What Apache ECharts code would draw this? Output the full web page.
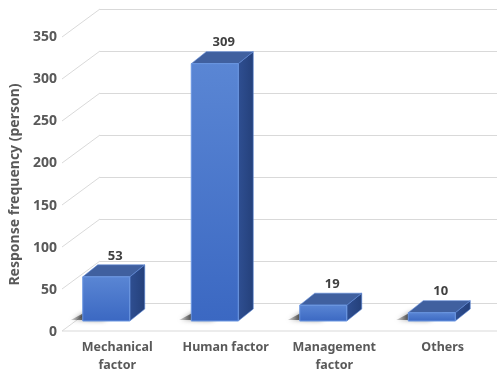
<!DOCTYPE html>
<html>
<head>
<meta charset="utf-8">
<script src="https://cdn.jsdelivr.net/npm/echarts@6/dist/echarts.min.js"></script>
<style>
  html, body { margin: 0; padding: 0; background: #fff; }
  #chart { width: 497px; height: 374px; }
</style>
</head>
<body>
<div id="chart"></div>
<script>
const categories = ['Mechanical\nfactor', 'Human factor', 'Management\nfactor', 'Others'];
const responses = [53, 309, 19, 10];
const gridTicks = [0, 50, 100, 150, 200, 250, 300, 350];

// oblique 3d offsets
const wallDx = 38, wallDy = -28;
const barDx = 15, barDy = -12;
const textColor = '#595959';
const font = 'Noto Sans';

let chart = echarts.init(document.getElementById('chart'));

function wallLines(params, api) {
  const v = api.value(0);
  const p = api.coord([0, v]);
  const children = [{
    type: 'line',
    shape: { x1: p[0], y1: p[1], x2: p[0] - wallDx, y2: p[1] - wallDy },
    style: { stroke: '#d9d9d9', lineWidth: 1 }
  }];
  if (v === 0) {
    children.push({
      type: 'line',
      shape: { x1: p[0] - wallDx, y1: p[1] - wallDy, x2: 497, y2: p[1] - wallDy },
      style: { stroke: '#d9d9d9', lineWidth: 1 }
    });
  }
  return { type: 'group', children: children };
}

function bar3d(params, api) {
  const top = api.coord([api.value(0), api.value(1)]);
  const base = api.coord([api.value(0), 0]);
  const w = 47;
  const x0 = top[0] - 11 - w / 2;
  const x1 = x0 + w;
  const yt = top[1], yb = base[1];
  return {
    type: 'group',
    children: [
      {
        // soft floor shadow, mostly hidden behind the bar
        type: 'polygon',
        shape: { points: [[x0 - 12, yb - 1], [x0 + 20, yb - 1], [x0 + 20 + barDx, yb + barDy + 3], [x0 - 12 + barDx, yb + barDy + 3]] },
        style: {
          fill: new echarts.graphic.LinearGradient(0, 0, 1, 0, [
            { offset: 0, color: 'rgba(0,0,0,0.15)' }, { offset: 0.4, color: 'rgba(0,0,0,0.8)' }, { offset: 1, color: 'rgba(0,0,0,0.9)' }
          ]),
          shadowBlur: 5, shadowColor: 'rgba(0,0,0,0.7)'
        }
      },
      {
        type: 'polygon',
        shape: { points: [[x1, yt], [x1 + barDx, yt + barDy], [x1 + barDx, yb + barDy], [x1, yb]] },
        style: {
          fill: new echarts.graphic.LinearGradient(0, 0, 1, 0, [
            { offset: 0, color: '#2f4f92' }, { offset: 1, color: '#24407a' }
          ]),
          stroke: '#5a86d6', lineWidth: 0.6
        }
      },
      {
        type: 'polygon',
        shape: { points: [[x0, yt], [x1, yt], [x1 + barDx, yt + barDy], [x0 + barDx, yt + barDy]] },
        style: { fill: '#40609f', stroke: '#5a86d6', lineWidth: 0.6 }
      },
      {
        type: 'rect',
        shape: { x: x0, y: yt, width: w, height: yb - yt },
        style: {
          fill: new echarts.graphic.LinearGradient(0, 0, 0, 1, [
            { offset: 0, color: '#5a86d4' }, { offset: 1, color: '#3b68c2' }
          ]),
          stroke: '#6b97e2', lineWidth: 1
        }
      },
      {
        type: 'text',
        x: top[0] - 2, y: yt + barDy - 9,
        style: {
          text: String(api.value(1)), align: 'center', verticalAlign: 'middle',
          fill: '#404040', font: 'bold 13px "' + font + '"'
        }
      }
    ]
  };
}

const option = {
  animation: false,
  grid: [
    { left: 100, right: 0, top: 9, bottom: 71 },      // back wall
    { left: 62, right: 0, top: 37, bottom: 42 },      // front axis plane
    { left: 63, right: -18, top: 29.5, bottom: 50 }   // bars
  ],
  xAxis: [
    { gridIndex: 0, type: 'value', min: 0, max: 1, show: false },
    { gridIndex: 1, type: 'value', min: 0, max: 1, show: false },
    {
      gridIndex: 2, type: 'category', data: categories,
      axisLine: { show: false }, axisTick: { show: false },
      axisLabel: { margin: 17, lineHeight: 18, color: textColor, fontFamily: font, fontWeight: 'bold', fontSize: 12.5, interval: 0 }
    }
  ],
  yAxis: [
    {
      gridIndex: 0, type: 'value', min: 0, max: 350, interval: 50,
      axisLabel: { show: false }, axisLine: { show: false }, axisTick: { show: false },
      splitLine: { lineStyle: { color: '#d9d9d9', width: 1 } }
    },
    {
      gridIndex: 1, type: 'value', min: 0, max: 350, interval: 50,
      axisLine: { show: false }, axisTick: { show: false }, splitLine: { show: false },
      axisLabel: { margin: 12, color: textColor, fontFamily: font, fontWeight: 'bold', fontSize: 14 },
      name: 'Response frequency (person)', nameLocation: 'middle', nameGap: 47,
      nameTextStyle: { color: textColor, fontFamily: font, fontWeight: 'bold', fontSize: 14 }
    },
    { gridIndex: 2, type: 'value', min: 0, max: 350, show: false }
  ],
  series: [
    {
      type: 'custom', xAxisIndex: 0, yAxisIndex: 0,
      data: gridTicks.map(v => [v]),
      encode: { y: 0 },
      renderItem: wallLines, silent: true, z: 1
    },
    {
      type: 'custom', xAxisIndex: 2, yAxisIndex: 2,
      data: responses.map((v, i) => [i, v]),
      encode: { x: 0, y: 1 },
      renderItem: bar3d, z: 3
    }
  ]
};

chart.setOption(option);
</script>
</body>
</html>
